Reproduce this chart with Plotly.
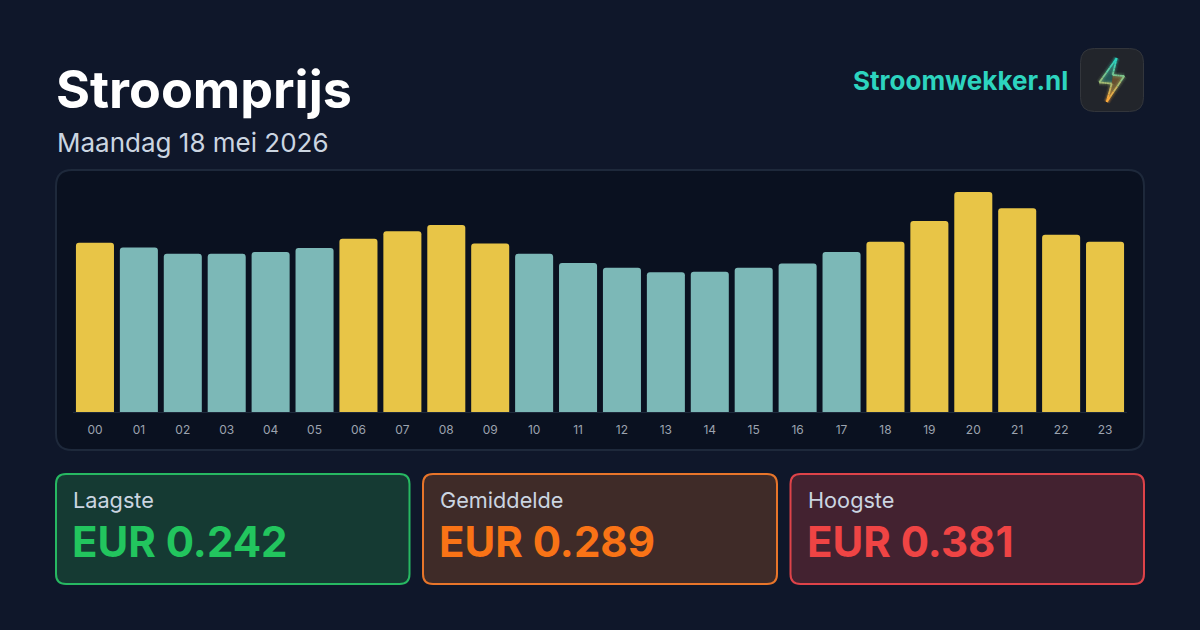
"""
Stroomprijs per uur, kaart in de stijl van Stroomwekker.nl
"""

import plotly.graph_objects as go

W = 1200
H = 630

# Datos
hours = ["00", "01", "02", "03", "04", "05", "06", "07", "08", "09", "10", "11",
         "12", "13", "14", "15", "16", "17", "18", "19", "20", "21", "22", "23"]
prices = [0.293, 0.285, 0.274, 0.274, 0.277, 0.284, 0.300, 0.313, 0.324, 0.292, 0.274, 0.258,
          0.250, 0.242, 0.243, 0.250, 0.257, 0.277, 0.295, 0.331, 0.381, 0.353, 0.307, 0.295]
average = 0.289

card_labels = ["Laagste", "Gemiddelde", "Hoogste"]
card_values = ["EUR 0.242", "EUR 0.289", "EUR 0.381"]
card_colors = ["#22c55e", "#f97316", "#ef4444"]
card_borders = ["#27b862", "#e8752a", "#de4349"]
card_fills = ["#153a33", "#3f2b28", "#432230"]
card_lefts = [56, 423, 790.5]
card_rights = [409.5, 777, 1144]

bolt_outline = [(1116.7, 58), (1099.3, 82.5), (1111.7, 83.5), (1106.7, 102), (1124.3, 76), (1112.7, 75), (1116.7, 58)]


def px(x):
    return x / W


def py(y):
    return 1 - y / H


def rounded_rect(x0, y0, x1, y1, r):
    """Path SVG de un rectángulo redondeado, en coordenadas paper"""
    pts = [
        ("M", x0 + r, y0), ("L", x1 - r, y0), ("Q", x1, y0, x1, y0 + r),
        ("L", x1, y1 - r), ("Q", x1, y1, x1 - r, y1), ("L", x0 + r, y1),
        ("Q", x0, y1, x0, y1 - r), ("L", x0, y0 + r), ("Q", x0, y0, x0 + r, y0),
    ]
    parts = []
    for p in pts:
        coords = []
        for i in range(1, len(p), 2):
            coords.append(f"{px(p[i]):.5f},{py(p[i + 1]):.5f}")
        parts.append(p[0] + " ".join(coords))
    return " ".join(parts) + " Z"


def box(x0, y0, x1, y1, r, fill, line, width=2):
    return dict(type="path", xref="paper", yref="paper", layer="below",
                path=rounded_rect(x0, y0, x1, y1, r), fillcolor=fill,
                line=dict(color=line, width=width))


def text(x, y, s, size, color, weight=400, anchor="left"):
    return dict(x=px(x), y=py(y), xref="paper", yref="paper", text=s, showarrow=False,
                xanchor=anchor, yanchor="middle", borderpad=0,
                font=dict(family="Inter", size=size, color=color, weight=weight))


def bolt_color(y):
    # teal arriba, naranja abajo
    t = min(max((y - 62) / 36, 0), 1)
    a = (45, 212, 191)
    b = (251, 170, 60)
    return tuple(round(a[i] + (b[i] - a[i]) * t) for i in range(3))


def bolt_shapes():
    out = []
    segs = []
    for (xa, ya), (xb, yb) in zip(bolt_outline[:-1], bolt_outline[1:]):
        n = 5
        for i in range(n):
            t0, t1 = i / n, (i + 1) / n
            segs.append((xa + (xb - xa) * t0, ya + (yb - ya) * t0, xa + (xb - xa) * t1, ya + (yb - ya) * t1))
    for width, alpha in [(7, 0.08), (4.5, 0.16), (1.8, 1.0)]:
        for x0, y0, x1, y1 in segs:
            r, g, b = bolt_color((y0 + y1) / 2)
            out.append(dict(type="line", xref="paper", yref="paper", layer="above",
                            x0=px(x0), y0=py(y0), x1=px(x1), y1=py(y1),
                            line=dict(color=f"rgba({r},{g},{b},{alpha})", width=width)))
    return out


fig = go.Figure()

bar_colors = ["#e8c547" if p > average else "#7cb8b7" for p in prices]
fig.add_trace(go.Bar(x=hours, y=prices, marker=dict(color=bar_colors, cornerradius=3, line_width=0), width=0.866))

shapes = [box(56, 170, 1144, 450, 16, "#0a1120", "#1e293b")]
shapes.append(box(1080.5, 48.5, 1143.5, 111.5, 14, "#22252b", "#33363c", 1))
# relleno del rayo
shapes.append(dict(type="path", xref="paper", yref="paper", layer="above", line_width=0,
                   fillcolor="rgba(45,212,191,0.3)",
                   path=f"M{px(1116.7)},{py(58)} L{px(1099.3)},{py(82.5)} L{px(1111.7)},{py(83.5)} L{px(1112.7)},{py(75)} Z"))
shapes.append(dict(type="path", xref="paper", yref="paper", layer="above", line_width=0,
                   fillcolor="rgba(251,170,60,0.32)",
                   path=f"M{px(1112.7)},{py(75)} L{px(1124.3)},{py(76)} L{px(1106.7)},{py(102)} L{px(1111.7)},{py(83.5)} Z"))
shapes.extend(bolt_shapes())

annotations = [
    text(55, 90, "Stroomprijs", 52, "#ffffff", 700),
    text(55.5, 143, "Maandag 18 mei 2026", 26, "#cbd5e1"),
    text(1069, 81, "Stroomwekker.nl", 26, "#2dd4bf", 700, "right"),
]
for label, value, color, border, fill, left, right in zip(card_labels, card_values, card_colors, card_borders, card_fills, card_lefts, card_rights):
    shapes.append(box(left, 474, right, 584, 10, fill, border))
    annotations.append(text(left + 16, 500, label, 21.7, "#cbd5e1"))
    annotations.append(text(left + 15, 541, value, 42, color, 700))

fig.update_layout(
    width=W,
    height=H,
    autosize=False,
    margin=dict(l=0, r=0, t=0, b=0),
    paper_bgcolor="#0f172a",
    plot_bgcolor="rgba(0,0,0,0)",
    showlegend=False,
    shapes=shapes,
    annotations=annotations,
    xaxis=dict(
        domain=[px(73), px(1127)],
        type="category",
        tickmode="array",
        tickvals=hours,
        ticktext=hours,
        tickfont=dict(family="Inter", size=12, color="#9ca3af"),
        ticklen=0,
        ticks="",
        ticklabelstandoff=7,
        showgrid=False,
        zeroline=False,
        showline=True,
        linecolor="#1e293b",
        linewidth=1,
        range=[-0.5, 23.5],
    ),
    yaxis=dict(
        domain=[py(412), py(172)],
        range=[0, 0.4157],
        visible=False,
    ),
)

fig.write_html(
    "out.html",
    config=dict(displayModeBar=False),
    post_script="document.body.style.margin='0';document.body.style.background='#0f172a';",
)
